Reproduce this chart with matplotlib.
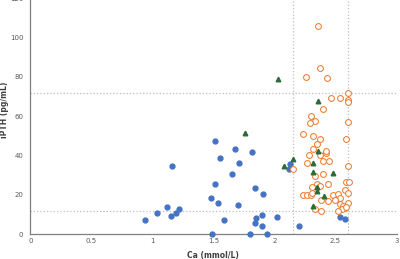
import matplotlib
matplotlib.use("Agg")
import matplotlib.pyplot as plt

# blue filled circles
blue_x = [0.94, 1.04, 1.12, 1.15, 1.16, 1.19, 1.22,
          1.51, 1.68, 1.82, 1.55, 1.71, 2.13, 2.12, 1.65, 1.51, 1.84, 1.91,
          1.48, 1.54, 1.70, 1.59, 1.90, 1.85, 2.02, 1.84, 1.90, 2.20,
          1.49, 1.80, 1.94, 2.54, 2.58]
blue_y = [7.1, 10.7, 13.7, 9.2, 34.7, 10.7, 12.7,
          47.4, 43.4, 42.0, 38.6, 36.2, 35.9, 33.4, 30.5, 25.7, 23.7, 20.3,
          18.5, 15.9, 14.9, 7.3, 9.8, 8.1, 8.6, 5.6, 4.2, 4.2,
          0.0, 0.0, 0.0, 8.6, 7.6]

# orange open circles
orange_x = [2.36, 2.37, 2.26, 2.43, 2.60, 2.46, 2.54, 2.60, 2.60, 2.40,
            2.30, 2.33, 2.29, 2.60, 2.23, 2.32, 2.37, 2.59, 2.35, 2.32,
            2.42, 2.42, 2.28, 2.37, 2.40, 2.45, 2.27, 2.15, 2.60, 2.33,
            2.40, 2.44, 2.35, 2.31, 2.37, 2.59, 2.61, 2.58, 2.60, 2.23,
            2.27, 2.30, 2.31, 2.48, 2.52, 2.54, 2.50, 2.44, 2.38, 2.54,
            2.60, 2.56, 2.58, 2.55, 2.52, 2.33, 2.38, 2.59]
orange_y = [105.9, 84.5, 80.0, 79.3, 72.0, 69.1, 69.4, 68.4, 67.4, 63.5,
            60.0, 57.8, 56.7, 57.2, 50.8, 49.8, 48.4, 48.3, 46.0, 43.5,
            41.3, 42.3, 40.1, 40.1, 37.4, 37.4, 36.2, 33.2, 34.7, 29.6,
            30.5, 25.7, 25.6, 24.2, 24.7, 26.4, 26.4, 22.4, 21.2, 19.8,
            19.8, 20.1, 21.0, 20.1, 20.3, 18.6, 17.4, 17.1, 17.4, 15.4,
            15.9, 14.2, 13.4, 12.9, 12.0, 12.9, 12.0, 13.8]

# green triangles
green_x = [1.76, 2.08, 2.15, 2.36, 2.32, 2.32, 2.48, 2.35, 2.35, 2.41, 2.32, 2.03, 2.36]
green_y = [51.3, 34.9, 38.1, 42.3, 36.2, 31.8, 31.0, 23.9, 22.0, 19.3, 14.2, 79.1, 67.9]

x_ticks = [0, 0.5, 1, 1.5, 2, 2.5, 3]
x_tick_labels = ["0", "0.5", "1", "1.5", "2", "2.5", "3"]
y_ticks = [0, 20, 40, 60, 80, 100, 120]

fig = plt.figure(figsize=(4, 2.59), dpi=100)
ax = fig.add_axes([30.3 / 400, (259 - 234.3) / 259, 366.2 / 400, 236 / 259])

ax.axhline(72, color="#bfbfbf", linestyle=":", linewidth=0.9, zorder=1)
ax.axhline(12, color="#bfbfbf", linestyle=":", linewidth=0.9, zorder=1)
ax.axvline(2.15, color="#bfbfbf", linestyle=":", linewidth=0.9, zorder=1)
ax.axvline(2.6, color="#bfbfbf", linestyle=":", linewidth=0.9, zorder=1)

ax.plot(blue_x, blue_y, "o", color="#4472c4", markersize=3.5, linestyle="none",
        clip_on=False, zorder=3)
ax.plot(orange_x, orange_y, "o", markerfacecolor="white", markeredgecolor="#ed7d31",
        markersize=4.2, markeredgewidth=0.75, linestyle="none", clip_on=False, zorder=3)
ax.plot(green_x, green_y, "^", color="#2f6b36", markersize=3.3, linestyle="none",
        clip_on=False, zorder=4)

ax.set_xlim(0, 3)
ax.set_ylim(0, 120)
ax.set_xticks(x_ticks)
ax.set_xticklabels(x_tick_labels)
ax.set_yticks(y_ticks)
ax.tick_params(axis="x", length=0, labelsize=5, colors="#595959", pad=3)
ax.tick_params(axis="y", length=0, labelsize=5, colors="#595959", pad=5)

for s in ["top", "right"]:
    ax.spines[s].set_visible(False)
ax.spines["left"].set_color("#808080")
ax.spines["bottom"].set_color("#808080")
ax.spines["left"].set_linewidth(0.9)
ax.spines["bottom"].set_linewidth(0.9)

ax.set_xlabel("Ca (mmol/L)", fontsize=5.5, fontweight="bold", color="#404040")
ax.set_ylabel("iPTH (pg/mL)", fontsize=5.5, fontweight="bold", color="#404040")
ax.xaxis.set_label_coords(0.5, -0.072)
ax.yaxis.set_label_coords(-0.058, 0.527)

fig.savefig("out.png", dpi=100)
